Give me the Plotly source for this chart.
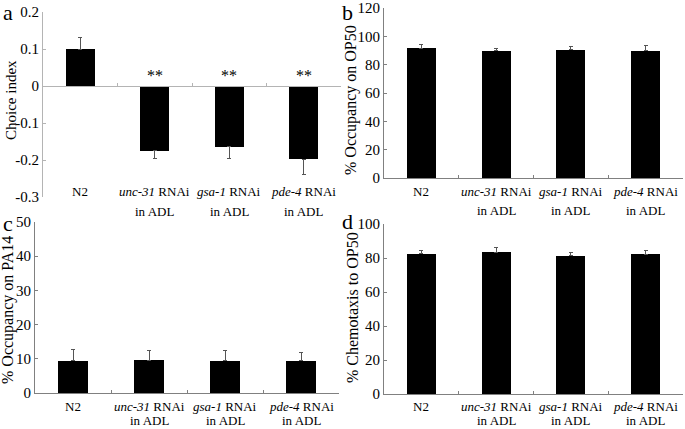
import plotly.graph_objects as go

# ---------------- data ----------------
cat_line1 = ["N2", "<i>unc-31</i> RNAi", "<i>gsa-1</i> RNAi", "<i>pde-4</i> RNAi"]
cat_line2 = ["", "in ADL", "in ADL", "in ADL"]

choice_index = [0.099, -0.175, -0.164, -0.198]
choice_err = [0.031, 0.022, 0.033, 0.042]
choice_sig = ["", "**", "**", "**"]

occ_op50 = [91.7, 90.0, 90.5, 90.0]
occ_op50_err = [2.8, 1.7, 2.6, 3.8]

occ_pa14 = [9.4, 9.6, 9.4, 9.4]
occ_pa14_err = [3.3, 2.7, 3.1, 2.3]

chemo_op50 = [82.4, 83.5, 81.4, 82.2]
chemo_op50_err = [2.3, 2.8, 1.9, 2.5]

panels = [
    dict(letter="a", title="Choice index", vals=choice_index, err=choice_err,
         yrange=[-0.3, 0.2], tickvals=[-0.3, -0.2, -0.1, 0, 0.1, 0.2],
         ticktext=["-0.3", "-0.2", "-0.1", "0", "0.1", "0.2"]),
    dict(letter="b", title="% Occupancy on OP50", vals=occ_op50, err=occ_op50_err,
         yrange=[0, 120], tickvals=[0, 20, 40, 60, 80, 100, 120],
         ticktext=["0", "20", "40", "60", "80", "100", "120"]),
    dict(letter="c", title="% Occupancy on PA14", vals=occ_pa14, err=occ_pa14_err,
         yrange=[0, 50], tickvals=[0, 10, 20, 30, 40, 50],
         ticktext=["0", "10", "20", "30", "40", "50"]),
    dict(letter="d", title="% Chemotaxis to OP50", vals=chemo_op50, err=chemo_op50_err,
         yrange=[0, 100], tickvals=[0, 20, 40, 60, 80, 100],
         ticktext=["0", "20", "40", "60", "80", "100"]),
]

# ---------------- layout geometry ----------------
W, H = 685, 429
def px_x(p): return p / W
def px_y(p): return 1 - p / H

geom = [
    dict(x=(43, 341), y=(197, 12), title_xy=(11, 100), title_size=15, letter_xy=(8, 13),
         lab_y=(192, 211), axcol="#b4b4b4"),
    dict(x=(384, 683), y=(178, 8), title_xy=(351, 100), title_size=16, letter_xy=(347, 12),
         lab_y=(192, 210), axcol="#808080"),
    dict(x=(35, 339), y=(393, 222), title_xy=(8, 310), title_size=16, letter_xy=(8, 223),
         lab_y=(406, 420), axcol="#808080"),
    dict(x=(384, 683), y=(394, 224), title_xy=(352, 308), title_size=16, letter_xy=(348, 221),
         lab_y=(406, 420), axcol="#808080"),
]

FONT = "Liberation Serif"
fig = go.Figure()
annotations = []
layout_axes = {}
xs = list(range(len(cat_line1)))

for i, (p, g) in enumerate(zip(panels, geom)):
    n = "" if i == 0 else str(i + 1)
    xa, ya = "x" + n, "y" + n
    vals, err = p["vals"], p["err"]
    plus = [e if v >= 0 else 0 for v, e in zip(vals, err)]
    minus = [0 if v >= 0 else e for v, e in zip(vals, err)]
    fig.add_trace(go.Bar(
        x=xs, y=vals, width=0.39, marker=dict(color="black", line=dict(width=0)),
        error_y=dict(type="data", symmetric=False, array=plus, arrayminus=minus,
                     color="#555555", thickness=1, width=2),
        xaxis=xa, yaxis=ya, showlegend=False, hoverinfo="skip"))

    ydom = [px_y(g["y"][0]), px_y(g["y"][1])]
    xdom = [px_x(g["x"][0]), px_x(g["x"][1])]
    y0, y1 = p["yrange"]
    xaxis = dict(domain=xdom, range=[-0.5, 3.5], showgrid=False, zeroline=False,
                 showline=True, linecolor=g["axcol"], linewidth=1, automargin=False,
                 tickmode="array", tickvals=[0.5, 1.5, 2.5, 3.5], ticktext=["", "", "", ""],
                 ticks="inside", ticklen=3, tickcolor=g["axcol"], fixedrange=True)
    if y0 < 0:
        frac = (0 - y0) / (y1 - y0)
        xaxis.update(anchor="free", position=ydom[0] + frac * (ydom[1] - ydom[0]))
    else:
        xaxis.update(anchor=ya)
    yaxis = dict(domain=ydom, range=[y0, y1], showgrid=False, zeroline=False,
                 showline=True, linecolor=g["axcol"], linewidth=1, automargin=False,
                 tickmode="array", tickvals=p["tickvals"], ticktext=p["ticktext"],
                 ticks="inside", ticklen=3, tickcolor=g["axcol"],
                 tickfont=dict(family=FONT, size=15, color="black"),
                 anchor=xa, fixedrange=True)
    layout_axes["xaxis" + n] = xaxis
    layout_axes["yaxis" + n] = yaxis

    # y title
    annotations.append(dict(text=p["title"], textangle=-90, xref="paper", yref="paper",
                            x=px_x(g["title_xy"][0]), y=px_y(g["title_xy"][1]),
                            xanchor="center", yanchor="middle", showarrow=False,
                            font=dict(family=FONT, size=g["title_size"], color="black")))
    # panel letter
    annotations.append(dict(text=p["letter"], xref="paper", yref="paper",
                            x=px_x(g["letter_xy"][0]), y=px_y(g["letter_xy"][1]),
                            xanchor="center", yanchor="middle", showarrow=False,
                            font=dict(family=FONT, size=22, color="black")))
    # category labels
    for j, (l1, l2) in enumerate(zip(cat_line1, cat_line2)):
        for txt, yy in ((l1, g["lab_y"][0]), (l2, g["lab_y"][1])):
            if txt:
                annotations.append(dict(text=txt, xref=xa, yref="paper", x=j, y=px_y(yy),
                                        xanchor="center", yanchor="middle", showarrow=False,
                                        font=dict(family=FONT, size=13, color="black")))
    # significance marks (panel a)
    if i == 0:
        for j, s in enumerate(choice_sig):
            if s:
                annotations.append(dict(text=s, xref=xa, yref=ya, x=j, y=0,
                                        xanchor="center", yanchor="bottom", yshift=0,
                                        showarrow=False,
                                        font=dict(family=FONT, size=16, color="black")))

fig.update_layout(width=W, height=H, margin=dict(l=0, r=0, t=0, b=0),
                  paper_bgcolor="white", plot_bgcolor="white",
                  bargap=0, annotations=annotations, **layout_axes)

fig.write_html("out.html",
               config={"displayModeBar": False, "staticPlot": True},
               post_script="document.body.style.margin='0';"
                           "document.body.style.overflow='hidden';")
